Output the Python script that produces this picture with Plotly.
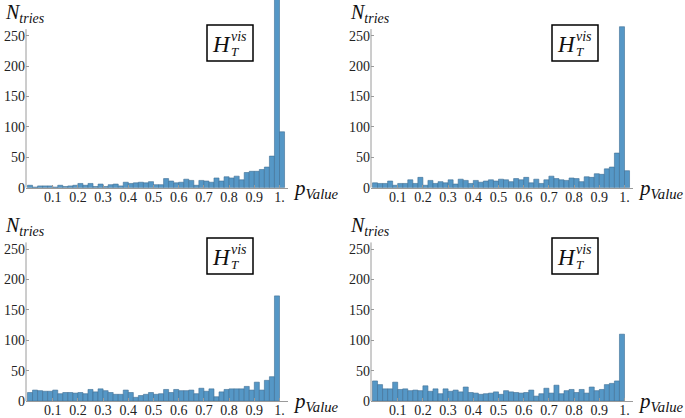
import plotly.graph_objects as go

W, H = 685, 418

# ---- data (counts per p-value bin of width 0.02, starting at 0) ----
bin_width = 0.02
counts_tl = [4, 1, 3, 3, 3, 1, 4, 2, 3, 4, 7, 4, 7, 2, 6, 2, 5, 6, 3, 9,
             7, 8, 9, 8, 10, 5, 5, 15, 11, 8, 9, 14, 12, 4, 12, 11, 9, 16, 11, 18,
             16, 19, 13, 25, 27, 27, 30, 34, 52, 320, 92]
counts_tr = [8, 7, 7, 11, 4, 7, 7, 13, 7, 17, 4, 12, 7, 10, 8, 13, 6, 14, 12, 7,
             12, 9, 11, 13, 11, 14, 13, 10, 15, 13, 17, 8, 14, 7, 13, 19, 15, 13, 12, 16,
             15, 10, 18, 17, 23, 22, 31, 34, 57, 265, 28]
counts_bl = [14, 18, 17, 16, 16, 18, 12, 14, 14, 13, 14, 12, 19, 15, 20, 17, 14, 11, 11, 18,
             14, 6, 9, 11, 14, 11, 12, 19, 14, 19, 17, 17, 18, 12, 21, 16, 20, 7, 15, 19,
             20, 20, 20, 24, 18, 31, 18, 34, 40, 173]
counts_br = [33, 27, 20, 20, 31, 19, 20, 17, 18, 17, 25, 16, 20, 12, 20, 16, 18, 15, 23, 14,
             13, 11, 12, 13, 15, 11, 17, 15, 14, 13, 14, 18, 8, 12, 21, 13, 26, 12, 17, 19,
             14, 19, 13, 23, 17, 19, 27, 29, 33, 110]

x_tick_vals = [0.1, 0.2, 0.3, 0.4, 0.5, 0.6, 0.7, 0.8, 0.9, 1.0]
x_tick_text = ["0.1", "0.2", "0.3", "0.4", "0.5", "0.6", "0.7", "0.8", "0.9", "1."]
y_tick_vals = [0, 50, 100, 150, 200, 250]
y_label = "<i>N</i><sub><i>tries</i></sub>"
x_label = "<i>p</i><sub><i>Value</i></sub>"

BAR = "#5597c6"
EDGE = "#3f6f93"
AXIS = "#9a9a9a"
FONT = "Liberation Serif"

PX_PER_X = 252.0
PX_PER_Y = 0.6075
panels = [
    dict(counts=counts_tl, L=26, Y0=187.7, top=0.0),
    dict(counts=counts_tr, L=371, Y0=187.7, top=0.0),
    dict(counts=counts_bl, L=26, Y0=401.0, top=241.0),
    dict(counts=counts_br, L=371, Y0=401.0, top=241.0),
]

def px(x):
    return x / W

def py(y):
    return 1 - y / H

fig = go.Figure()
layout = dict(width=W, height=H, margin=dict(l=0, r=0, t=0, b=0, pad=0, autoexpand=False),
              plot_bgcolor="white", paper_bgcolor="white", showlegend=False,
              bargap=0, shapes=[], annotations=[])

for i, p in enumerate(panels, start=1):
    L, Y0, top = p["L"], p["Y0"], p["top"]
    Z = L + 1.5
    R = L + 262
    xr = [(L - Z) / PX_PER_X, (R - Z) / PX_PER_X]
    yr = [0, (Y0 - top) / PX_PER_Y]
    centers = [bin_width * (k + 0.5) for k in range(len(p["counts"]))]
    xa = "x" if i == 1 else f"x{i}"
    ya = "y" if i == 1 else f"y{i}"
    fig.add_trace(go.Bar(x=centers, y=p["counts"], width=bin_width,
                         marker=dict(color=BAR, line=dict(color=EDGE, width=0.6)),
                         xaxis=xa, yaxis=ya, hoverinfo="skip"))
    xkey = "xaxis" if i == 1 else f"xaxis{i}"
    ykey = "yaxis" if i == 1 else f"yaxis{i}"
    layout[xkey] = dict(domain=[px(L), px(R)], range=xr, anchor=ya, automargin=False,
                        showgrid=False, zeroline=False, showline=True,
                        linecolor=AXIS, linewidth=1,
                        ticks="inside", ticklen=3, tickcolor=AXIS,
                        tickvals=x_tick_vals, ticktext=x_tick_text,
                        ticklabelstandoff=-4,
                        tickfont=dict(family=FONT, size=14, color="#222"))
    layout[ykey] = dict(domain=[py(Y0), py(top)], range=yr, anchor=xa, automargin=False,
                        showgrid=False, zeroline=False, showline=False,
                        ticks="inside", ticklen=3, tickcolor=AXIS,
                        tickvals=y_tick_vals,
                        tickfont=dict(family=FONT, size=14, color="#222"))
    layout["shapes"].append(dict(type="line", xref=f"{xa} domain", yref=ya,
                                 x0=0, x1=0, y0=0, y1=261,
                                 line=dict(color=AXIS, width=1)))
    layout["annotations"].append(dict(text=y_label, xref="paper", yref="paper",
                                      x=px(L - 23), y=py(14 if top == 0 else 226),
                                      xanchor="left", yanchor="middle", showarrow=False,
                                      font=dict(family=FONT, size=20, color="#111")))
    layout["annotations"].append(dict(text=x_label, xref="paper", yref="paper",
                                      x=px(L + 265), y=py(Y0 + 1),
                                      xanchor="left", yanchor="middle", showarrow=False,
                                      font=dict(family=FONT, size=21, color="#111")))
    bx0, bx1 = L + 181, L + 227
    by0 = (25 if top == 0 else 238)
    by1 = by0 + 36
    layout["shapes"].append(dict(type="rect", xref="paper", yref="paper",
                                 x0=px(bx0), x1=px(bx1), y0=py(by1), y1=py(by0),
                                 line=dict(color="black", width=1.5), fillcolor="white"))
    layout["annotations"].append(dict(text="<i>H</i>", xref="paper", yref="paper",
                                      x=px(bx0 + 14), y=py(by0 + 19), xanchor="center",
                                      yanchor="middle", showarrow=False,
                                      font=dict(family=FONT, size=23, color="#111")))
    layout["annotations"].append(dict(text="<i>vis</i>", xref="paper", yref="paper",
                                      x=px(bx0 + 32), y=py(by0 + 11), xanchor="center",
                                      yanchor="middle", showarrow=False,
                                      font=dict(family=FONT, size=14, color="#111")))
    layout["annotations"].append(dict(text="<i>T</i>", xref="paper", yref="paper",
                                      x=px(bx0 + 28), y=py(by0 + 26), xanchor="center",
                                      yanchor="middle", showarrow=False,
                                      font=dict(family=FONT, size=13, color="#111")))

fig.update_layout(**layout)
fig.write_html("out.html", config={"displayModeBar": False, "staticPlot": True},
               post_script="document.body.style.margin='0';document.body.style.overflow='hidden';")
